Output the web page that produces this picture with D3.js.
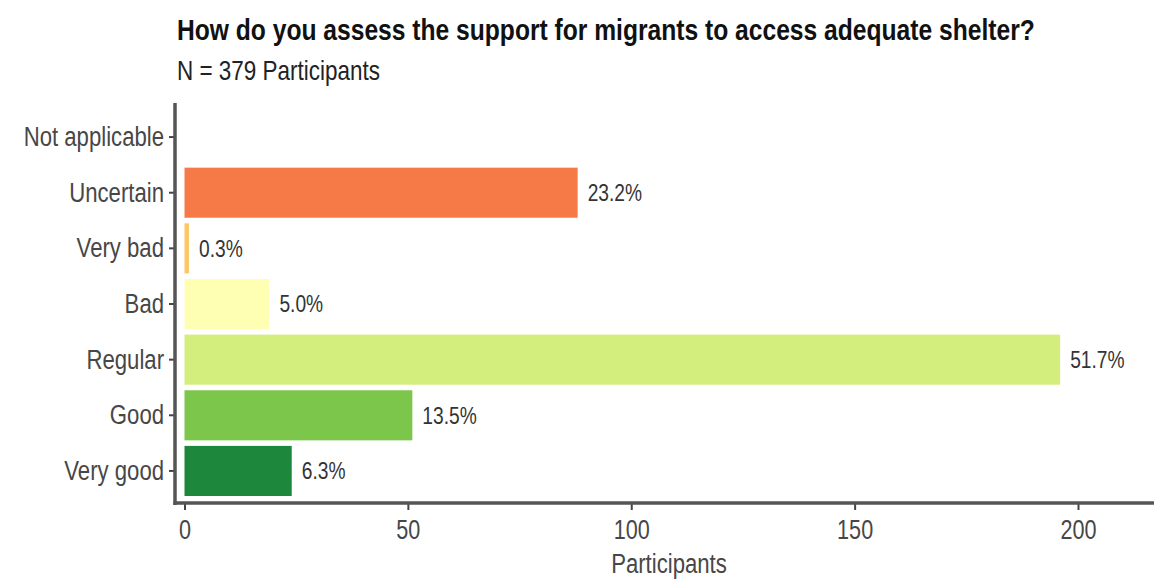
<!DOCTYPE html>
<meta charset="utf-8">
<head>
<style>
body { margin: 0; background: #fff; }
svg text { font-family: "Liberation Sans", Arial, sans-serif; }
.title { font-weight: bold; fill: #111; }
.subtitle { fill: #222; }
.tick-label { fill: #474747; }
.value { fill: #333; }
</style>
</head>
<body>
<svg width="1154" height="582"></svg>
<script src="https://d3js.org/d3.v7.min.js"></script>
<script>

// data, top to bottom as in the picture
var categories = ["Not applicable", "Uncertain", "Very bad", "Bad", "Regular", "Good", "Very good"];
var counts = [0, 88, 1, 19, 196, 51, 24];
var percents = ["", "23.2%", "0.3%", "5.0%", "51.7%", "13.5%", "6.3%"];
var colors = ["#d73027", "#f67a48", "#fdc765", "#ffffb4", "#d3ee7c", "#7cc64c", "#1d873b"];
var xTicks = [0, 50, 100, 150, 200];

var svg = d3.select("svg");

var x = d3.scaleLinear().domain([0, 200]).range([184.5, 1078]);
var y = d3.scaleBand().domain(categories).range([104, 504]).paddingInner(0.1).paddingOuter(0.144);

// squeeze text horizontally to look like a narrow face
function narrow(sel, f) {
  sel.each(function() {
    var w = this.getComputedTextLength();
    d3.select(this).attr("textLength", w * f).attr("lengthAdjust", "spacingAndGlyphs");
  });
}

// title and subtitle: scaled groups so their boxes stay true
function heading(cls, txt, size, ty, width) {
  var g = svg.append("g");
  var t = g.append("text").attr("class", cls).attr("font-size", size).text(txt);
  var sx = width / t.node().getComputedTextLength();
  g.attr("transform", "translate(177," + ty + ") scale(" + sx + ",1)");
}
heading("title", "How do you assess the support for migrants to access adequate shelter?", 30, 40, 858);
heading("subtitle", "N = 379 Participants", 27, 80, 203);

var data = categories.map(function(c, i) {
  return { cat: c, n: counts[i], pct: percents[i], color: colors[i] };
});

svg.selectAll(".bar")
  .data(data.filter(function(d) { return d.n > 0; }))
  .enter().append("rect")
    .attr("class", "bar")
    .attr("x", x(0))
    .attr("y", function(d) { return y(d.cat); })
    .attr("width", function(d) { return x(d.n) - x(0); })
    .attr("height", y.bandwidth())
    .attr("fill", function(d) { return d.color; });

svg.selectAll(".value")
  .data(data.filter(function(d) { return d.n > 0; }))
  .enter().append("text")
    .attr("class", "value")
    .attr("x", function(d) { return x(d.n) + 10; })
    .attr("y", function(d) { return y(d.cat) + y.bandwidth() / 2; })
    .attr("dy", "0.35em")
    .attr("font-size", 24)
    .text(function(d) { return d.pct; })
    .call(narrow, 0.8);

// y axis
var yAxis = svg.append("g").attr("transform", "translate(175,0)")
    .call(d3.axisLeft(y).tickSize(6).tickPadding(5));
yAxis.select(".domain").remove();
yAxis.selectAll("line").attr("stroke", "#444").attr("stroke-width", 2);
yAxis.selectAll("text").attr("class", "tick-label").attr("font-size", 27).attr("fill", null)
    .attr("font-family", null).attr("dy", "0.33em")
    .call(narrow, 0.82);

// x axis
var xAxis = svg.append("g").attr("transform", "translate(0,503)")
    .call(d3.axisBottom(x).tickValues(xTicks).tickSize(7).tickPadding(10));
xAxis.select(".domain").remove();
xAxis.selectAll("line").attr("stroke", "#444").attr("stroke-width", 2);
xAxis.selectAll("text").attr("class", "tick-label").attr("font-size", 27).attr("fill", null)
    .attr("font-family", null)
    .call(narrow, 0.8);

svg.append("line").attr("x1", 175).attr("x2", 175).attr("y1", 103).attr("y2", 505)
    .attr("stroke", "#555").attr("stroke-width", 3.5);
svg.append("line").attr("x1", 173.5).attr("x2", 1154).attr("y1", 503).attr("y2", 503)
    .attr("stroke", "#555").attr("stroke-width", 3.5);

svg.append("text").attr("class", "tick-label")
    .attr("x", 669).attr("y", 573)
    .attr("text-anchor", "middle")
    .attr("font-size", 27)
    .text("Participants")
    .call(narrow, 0.82);

</script>
</body>
</html>
